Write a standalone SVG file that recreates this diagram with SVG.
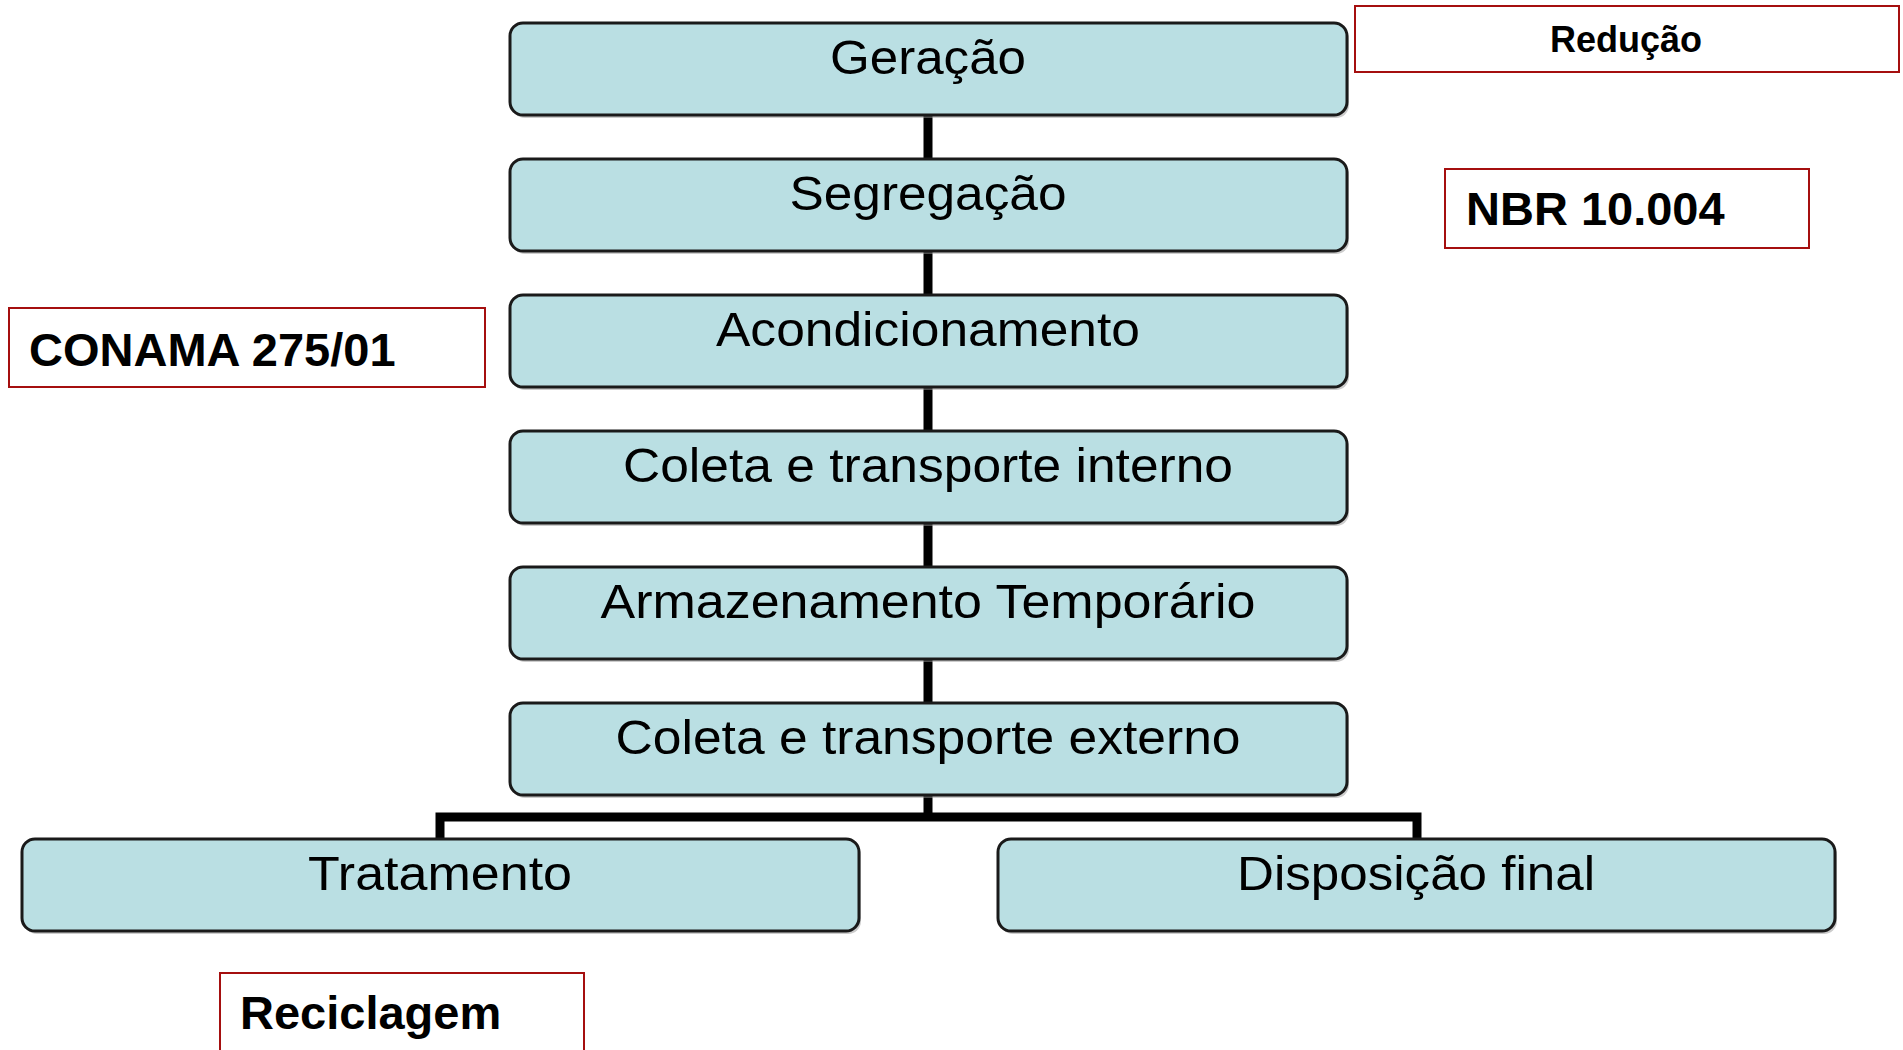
<svg xmlns="http://www.w3.org/2000/svg" width="1903" height="1050" viewBox="0 0 1903 1050">
<defs>
<style>
.box{fill:#badfe3;stroke:#1a1a1a;stroke-width:3}
.shadow{fill:#9a9a9a;opacity:0.5}
.t{font-family:"Liberation Sans",Arial,sans-serif;font-size:48px;fill:#000;text-anchor:middle}
.red{fill:#fff;stroke:#a50f0f;stroke-width:2}
.b{font-family:"Liberation Sans",Arial,sans-serif;font-weight:bold;fill:#000}
.conn{fill:none;stroke:#000;stroke-width:9}
</style>
</defs>
<rect width="1903" height="1050" fill="#fff"/>
<g id="connectors">
<path class="conn" d="M928 115 V817"/>
<path class="conn" d="M440 839 V817 H1417 V839"/>
</g>
<g id="n-geracao">
<rect class="shadow" x="512" y="26" width="837" height="92" rx="13"/>
<rect class="box" x="510" y="23" width="837" height="92" rx="13"/>
<text class="t" x="928" y="74" textLength="196" lengthAdjust="spacingAndGlyphs">Geração</text>
</g>
<g id="n-segregacao">
<rect class="shadow" x="512" y="162" width="837" height="92" rx="13"/>
<rect class="box" x="510" y="159" width="837" height="92" rx="13"/>
<text class="t" x="928" y="210" textLength="277" lengthAdjust="spacingAndGlyphs">Segregação</text>
</g>
<g id="n-acondicionamento">
<rect class="shadow" x="512" y="298" width="837" height="92" rx="13"/>
<rect class="box" x="510" y="295" width="837" height="92" rx="13"/>
<text class="t" x="928" y="346" textLength="424" lengthAdjust="spacingAndGlyphs">Acondicionamento</text>
</g>
<g id="n-coleta-interno">
<rect class="shadow" x="512" y="434" width="837" height="92" rx="13"/>
<rect class="box" x="510" y="431" width="837" height="92" rx="13"/>
<text class="t" x="928" y="482" textLength="610" lengthAdjust="spacingAndGlyphs">Coleta e transporte interno</text>
</g>
<g id="n-armazenamento">
<rect class="shadow" x="512" y="570" width="837" height="92" rx="13"/>
<rect class="box" x="510" y="567" width="837" height="92" rx="13"/>
<text class="t" x="928" y="618" textLength="655" lengthAdjust="spacingAndGlyphs">Armazenamento Temporário</text>
</g>
<g id="n-coleta-externo">
<rect class="shadow" x="512" y="706" width="837" height="92" rx="13"/>
<rect class="box" x="510" y="703" width="837" height="92" rx="13"/>
<text class="t" x="928" y="754" textLength="625" lengthAdjust="spacingAndGlyphs">Coleta e transporte externo</text>
</g>
<g id="n-tratamento">
<rect class="shadow" x="24" y="842" width="837" height="92" rx="13"/>
<rect class="box" x="22" y="839" width="837" height="92" rx="13"/>
<text class="t" x="440" y="890" textLength="264" lengthAdjust="spacingAndGlyphs">Tratamento</text>
</g>
<g id="n-disposicao">
<rect class="shadow" x="1000" y="842" width="837" height="92" rx="13"/>
<rect class="box" x="998" y="839" width="837" height="92" rx="13"/>
<text class="t" x="1416" y="890" textLength="358" lengthAdjust="spacingAndGlyphs">Disposição final</text>
</g>
<g id="l-reducao">
<rect class="red" x="1355" y="6" width="544" height="66"/>
<text class="b" x="1626" y="52" font-size="36" text-anchor="middle">Redução</text>
</g>
<g id="l-nbr">
<rect class="red" x="1445" y="169" width="364" height="79"/>
<text class="b" x="1466" y="225" font-size="47">NBR 10.004</text>
</g>
<g id="l-conama">
<rect class="red" x="9" y="308" width="476" height="79"/>
<text class="b" x="29" y="366" font-size="47">CONAMA 275/01</text>
</g>
<g id="l-reciclagem">
<rect class="red" x="220" y="973" width="364" height="90"/>
<text class="b" x="240" y="1029" font-size="47">Reciclagem</text>
</g>
</svg>
